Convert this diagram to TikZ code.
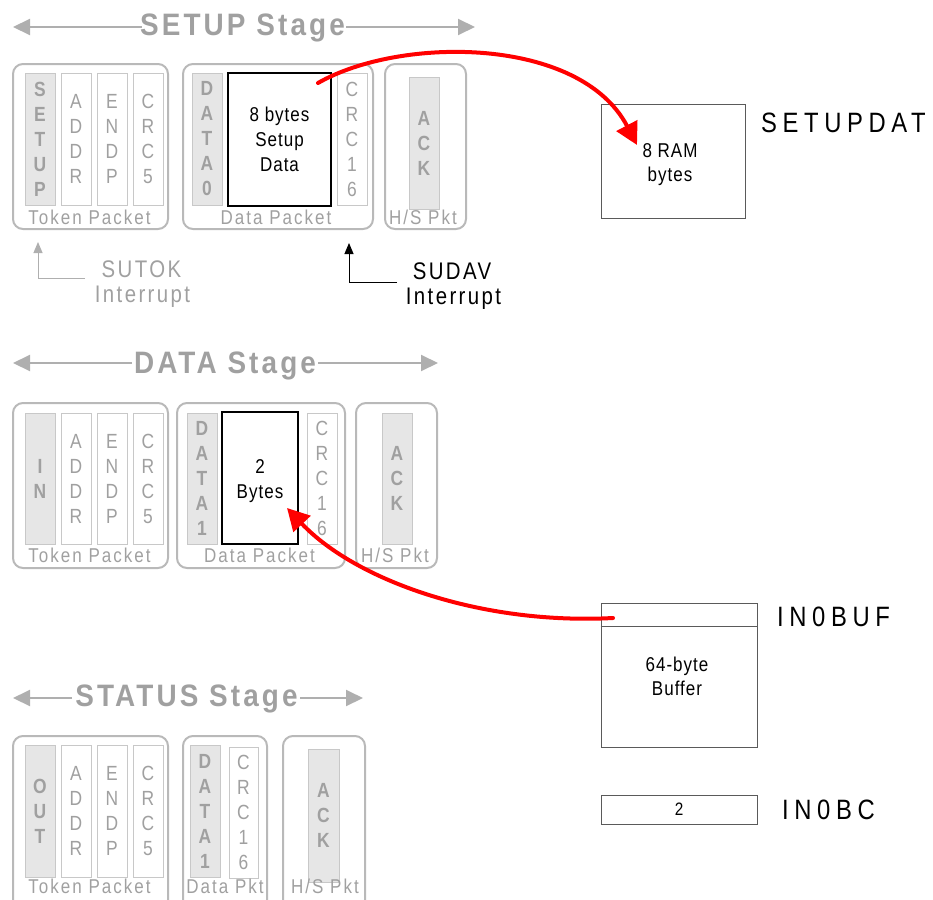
\documentclass[tikz,border=0pt]{standalone}
\usepackage{fontspec}
\setmainfont{Liberation Sans}
\newfontfamily\nf[FakeStretch=0.85,LetterSpace=10]{Liberation Sans}
\newfontfamily\nft[FakeStretch=0.9,LetterSpace=10]{Liberation Sans}
\newfontfamily\nfs[FakeStretch=0.85,LetterSpace=5]{Liberation Sans}
\newfontfamily\nfw[FakeStretch=0.85,LetterSpace=20]{Liberation Sans}
\usetikzlibrary{arrows.meta}
\definecolor{pktgray}{RGB}{185,185,185}
\definecolor{cellgray}{RGB}{200,200,200}
\definecolor{cellfill}{RGB}{230,230,230}
\definecolor{txtgray}{RGB}{160,160,160}
\definecolor{stagegray}{RGB}{160,160,160}
\definecolor{arrgray}{RGB}{175,175,175}
\definecolor{boxline}{RGB}{90,90,90}
\begin{document}
\begin{tikzpicture}[x=1pt,y=-1pt,
  pkt/.style={draw=pktgray,line width=2pt,rounded corners=10pt},
  cellw/.style={draw=cellgray,line width=1pt,fill=white,minimum width=30pt,minimum height=132pt,inner sep=0pt,align=center,text=txtgray,font=\nf\fontsize{20.5}{25}\selectfont},
  cellg/.style={cellw,fill=cellfill,font=\nf\bfseries\fontsize{20.5}{25}\selectfont},
  blk/.style={draw=black,line width=2pt,fill=white,inner sep=0pt,align=center,text=black,font=\nfs\fontsize{20}{25}\selectfont},
  thinbox/.style={draw=boxline,line width=1pt,fill=white,inner sep=0pt,align=center,text=black,font=\nfs\fontsize{20}{24}\selectfont},
  lbl/.style={text=txtgray,font=\nf\fontsize{20}{24}\selectfont,inner sep=0pt,anchor=base},
  stagetitle/.style={text=stagegray,font=\nft\bfseries\fontsize{31}{36}\selectfont,inner sep=0pt,anchor=base},
  stagearr/.style={draw=arrgray,line width=2pt,-{Triangle[length=17pt,width=16pt]}},
  intlbl/.style={font=\nf\fontsize{24}{28}\selectfont,inner sep=0pt,anchor=base},
  biglbl/.style={font=\nfw\fontsize{28}{32}\selectfont,inner sep=0pt,anchor=west,text=black},
  redarrow/.style={draw=red,line width=4pt,line cap=round,-{Triangle[length=22pt,width=23pt]}},
]
\useasboundingbox (0,0) rectangle (933,899);
\clip (0,0) rectangle (933,899);

% ---------------- SETUP stage ----------------
\node[stagetitle] (t1) at (242.5,36) {SETUP Stage};
\coordinate (t1a) at (142,27); \coordinate (t1l) at (13,27);
\coordinate (t1b) at (346,27); \coordinate (t1r) at (475,27);
\draw[stagearr] (t1a) -- (t1l);
\draw[stagearr] (t1b) -- (t1r);

\draw[pkt] (13,64) rectangle (168,229);
\draw[pkt] (183,64) rectangle (373,229);
\draw[pkt] (385,64) rectangle (466,229);

\node[cellg] (s1c1) at (40,139) {S\\E\\T\\U\\P};
\node[cellw] (s1c2) at (76,139) {A\\D\\D\\R};
\node[cellw] (s1c3) at (112,139) {E\\N\\D\\P};
\node[cellw] (s1c4) at (148,139) {C\\R\\C\\5};
\node[cellg] (s1d0) at (207,139) {D\\A\\T\\A\\0};
\node[blk,minimum width=103pt,minimum height=133pt] (s1data) at (279.5,139.5) {8 bytes\\Setup\\Data};
\node[cellw] (s1crc) at (352,139) {C\\R\\C\\1\\6};
\node[cellg] (s1ack) at (424,143) {A\\C\\K};

\node[lbl] (s1tok) at (89.5,224) {Token Packet};
\node[lbl] (s1dp) at (276,224) {Data Packet};
\node[lbl] (s1hs) at (423,224) {H/S Pkt};

% interrupts
\coordinate (sutA) at (85,278); \coordinate (sutB) at (38,278); \coordinate (sutC) at (38,242);
\draw[draw=arrgray,line width=1pt,-{Triangle[length=11pt,width=9pt]}] (sutA) -- (sutB) -- (sutC);
\node[intlbl,text=txtgray] (sutok) at (141.5,277) {SUTOK};
\node[intlbl,text=txtgray] (sutoki) at (142.5,302) {Interrupt};

\coordinate (sudA) at (397,282); \coordinate (sudB) at (349,282); \coordinate (sudC) at (349,243);
\draw[draw=black,line width=1pt,-{Triangle[length=11pt,width=9pt]}] (sudA) -- (sudB) -- (sudC);
\node[intlbl,text=black] (sudav) at (452,279) {SUDAV};
\node[intlbl,text=black] (sudavi) at (453.5,304) {Interrupt};

% SETUPDAT
\node[thinbox,minimum width=144pt,minimum height=114pt] (setupdat) at (673,161) {};
\node[thinbox,draw=none,fill=none] (setupdatt) at (670,165) {8 RAM\\bytes};
\node[biglbl] (setupdatl) at (761,123) {SETUPDAT};

% ---------------- DATA stage ----------------
\node[stagetitle] (t2) at (225,373) {DATA Stage};
\coordinate (t2a) at (132,363); \coordinate (t2l) at (13,363);
\coordinate (t2b) at (318,363); \coordinate (t2r) at (438,363);
\draw[stagearr] (t2a) -- (t2l);
\draw[stagearr] (t2b) -- (t2r);

\draw[pkt] (13,403) rectangle (168,568);
\draw[pkt] (177,403) rectangle (345,568);
\draw[pkt] (356,403) rectangle (437,568);

\node[cellg,minimum height=131pt] (s2c1) at (40,478.5) {I\\N};
\node[cellw,minimum height=131pt] (s2c2) at (76,478.5) {A\\D\\D\\R};
\node[cellw,minimum height=131pt] (s2c3) at (112,478.5) {E\\N\\D\\P};
\node[cellw,minimum height=131pt] (s2c4) at (148,478.5) {C\\R\\C\\5};
\node[cellg,minimum height=131pt] (s2d1) at (202,478.5) {D\\A\\T\\A\\1};
\node[cellw,minimum height=131pt] (s2crc) at (322,478.5) {C\\R\\C\\1\\6};
\node[blk,minimum width=76pt,minimum height=132pt] (s2data) at (260,478) {};
\node[blk,draw=none,fill=none] (s2txt) at (260,481) {2\\Bytes};
\node[cellg,minimum height=131pt] (s2ack) at (397,478.5) {A\\C\\K};

\node[lbl] (s2tok) at (89.5,562) {Token Packet};
\node[lbl] (s2dp) at (259.5,562) {Data Packet};
\node[lbl] (s2hs) at (395,562) {H/S Pkt};

% IN0BUF
\node[thinbox,minimum width=156pt,minimum height=144pt] (inbuf) at (679,675) {};
\draw[draw=boxline,line width=1pt] ([yshift=-24pt]inbuf.north west) -- ([yshift=-24pt]inbuf.north east);
\node[thinbox,draw=none,fill=none] (inbuft) at (677,676) {64-byte\\Buffer};
\node[biglbl] (inbufl) at (777,617) {IN0BUF};

% IN0BC
\node[thinbox,minimum width=156pt,minimum height=29pt,font=\nfs\fontsize{18}{22}\selectfont] (inbc) at (679,809.5) {2};
\node[biglbl] (inbcl) at (782,810) {IN0BC};

% ---------------- STATUS stage ----------------
\node[stagetitle] (t3) at (186.5,706) {STATUS Stage};
\coordinate (t3a) at (72,698); \coordinate (t3l) at (13,698);
\coordinate (t3b) at (300,698); \coordinate (t3r) at (363,698);
\draw[stagearr] (t3a) -- (t3l);
\draw[stagearr] (t3b) -- (t3r);

\draw[pkt] (13,736) rectangle (168,910);
\draw[pkt] (183,736) rectangle (267,910);
\draw[pkt] (283,736) rectangle (365,910);

\node[cellg] (s3c1) at (40,811) {O\\U\\T};
\node[cellw] (s3c2) at (76,811) {A\\D\\D\\R};
\node[cellw] (s3c3) at (112,811) {E\\N\\D\\P};
\node[cellw] (s3c4) at (148,811) {C\\R\\C\\5};
\node[cellg] (s3d1) at (205,811) {D\\A\\T\\A\\1};
\node[cellw,minimum width=29pt,minimum height=131pt] (s3crc) at (243.5,812.5) {C\\R\\C\\1\\6};
\node[cellg,minimum width=31pt,minimum height=133pt] (s3ack) at (323.5,815.5) {A\\C\\K};

\node[lbl] (s3tok) at (89.5,893) {Token Packet};
\node[lbl] (s3dp) at (225,893) {Data Pkt};
\node[lbl] (s3hs) at (325,893) {H/S Pkt};

% ---------------- red arrows ----------------
\coordinate (r1s) at (318,83); \coordinate (r1t) at (637,145);
\draw[redarrow] (r1s) .. controls (400,36) and (580,36) .. (r1t);
\coordinate (r2s) at (613,618); \coordinate (r2t) at (287,508);
\draw[redarrow] (r2s) .. controls (480,625) and (355,580) .. (r2t);
\end{tikzpicture}
\end{document}
